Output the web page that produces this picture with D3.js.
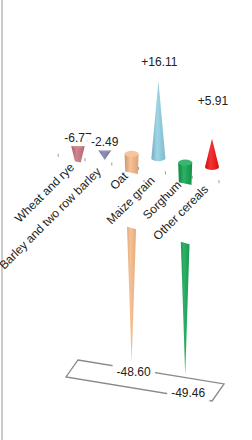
<!DOCTYPE html>
<html>
<head>
<meta charset="utf-8">
<script src="https://cdn.jsdelivr.net/npm/d3@7"></script>
<style>
  html, body { margin: 0; padding: 0; background: #fff; }
  svg { display: block; font-family: "Liberation Sans", Arial, sans-serif; }
</style>
</head>
<body>
<div id="container"></div>
<script>
const categories = ["Wheat and rye", "Barley and two row barley", "Oat", "Maize grain", "Sorghum", "Other cereals"]
const values = [-6.77, -2.49, -48.60, 16.11, -49.46, 5.91]
const colors = ["#c6717b", "#7b7aa8", "#f5b682", "#8dcfe3", "#0ba24c", "#f21010"]

const width = 252, height = 440

// bar centres along the (slanted) floor
const x = d3.scalePoint().domain(categories).range([78, 212])
// floor height at a given x (perspective tilt)
const floor = d3.scaleLinear().domain([78, 212]).range([145, 167])
// value -> vertical offset from the floor
const y = d3.scaleLinear().domain([-50, 0, 20]).range([215, 0, -96])
// white band hiding the part of the negative cones under the floor
const bandTop = d3.scaleLinear().domain([78, 212]).range([162, 189])
const bandBottom = d3.scaleLinear().domain([131.6, 185.2]).range([228, 243])

const fmt = v => (v > 0 ? "+" : "") + v.toFixed(2)

const svg = d3.select("#container").append("svg")
    .attr("width", width)
    .attr("height", height)

// left border line
svg.append("line")
    .attr("x1", 2).attr("x2", 2)
    .attr("y1", 0).attr("y2", height)
    .attr("stroke", "#a8a8a8")
    .attr("stroke-width", 1.2)

const defs = svg.append("defs")
colors.forEach((c, i) => {
    const g = defs.append("linearGradient").attr("id", "grad" + i)
        .attr("x1", "0%").attr("x2", "100%").attr("y1", "0%").attr("y2", "0%")
    g.append("stop").attr("offset", "0%").attr("stop-color", d3.color(c).darker(0.5))
    g.append("stop").attr("offset", "40%").attr("stop-color", d3.interpolateRgb(c, "#fff")(0.15))
    g.append("stop").attr("offset", "100%").attr("stop-color", d3.color(c).darker(0.3))
})

/********************* floor ticks ************************/

const step = x.step()
const tickX = d3.range(-1, categories.length).map(i => x.range()[0] + i * step + 7)
svg.append("g").selectAll("line")
    .data(tickX).enter()
    .append("line")
    .attr("x1", d => d).attr("x2", d => d)
    .attr("y1", d => floor(d) + 12).attr("y2", d => floor(d) + 15)
    .attr("stroke", "#999")

/********************* cones ************************/

const halfW = 7, ry = 3

function conePath(cx, v) {
    const b = floor(cx), tip = b + y(v)
    if (v >= 0) {
        return `M${cx - halfW},${b} L${cx},${tip} L${cx + halfW},${b} A${halfW},${ry} 0 0 1 ${cx - halfW},${b} Z`
    }
    return `M${cx - halfW},${b} L${cx},${tip} L${cx + halfW},${b} Z`
}

const bars = svg.append("g").selectAll("g")
    .data(categories).enter()
    .append("g")

bars.append("path")
    .attr("d", (d, i) => conePath(x(d), values[i]))
    .attr("fill", (d, i) => `url(#grad${i})`)

bars.filter((d, i) => values[i] < 0)
    .append("ellipse")
    .attr("cx", d => x(d))
    .attr("cy", d => floor(x(d)))
    .attr("rx", halfW)
    .attr("ry", ry)
    .attr("fill", d => d3.interpolateRgb(colors[categories.indexOf(d)], "#fff")(0.2))

// occluding band (axis label area)
svg.append("path")
    .attr("d", `M40,${bandTop(40)} L250,${bandTop(250)} L250,${bandBottom(250)} L40,${bandBottom(40)} Z`)
    .attr("fill", "#fff")

/********************* category labels ************************/

svg.append("g").selectAll("text")
    .data(categories).enter()
    .append("text")
    .attr("transform", d => `translate(${x(d) - 3},${floor(x(d)) + 23}) rotate(-45)`)
    .attr("text-anchor", "end")
    .attr("font-size", 12)
    .attr("fill", "#222")
    .text(d => d)

/********************* floor plate ************************/

const yMin = y.domain()[0]
const px0 = x.range()[0], px1 = x.range()[1] + step * 0.45
const back = [[px0, floor(px0) + y(yMin)], [px1, floor(px1) + y(yMin)]]
const front = back.map(p => [p[0] - 12, p[1] + 17])
const backY = xx => floor(xx) + y(yMin)
const frontY = xx => floor(xx + 12) + y(yMin) + 17

svg.append("path")
    .attr("d", d3.line()([back[0], back[1], front[1], front[0]]) + "Z")
    .attr("fill", "none")
    .attr("stroke", "#8a8a8a")
    .attr("stroke-width", 1.3)

/********************* value labels ************************/

let deep = 0
const labelPos = categories.map((c, i) => {
    const cx = x(c), v = values[i]
    if (v >= 0) return [cx + 1, Math.min(floor(cx) + y(v), 119) - 14.5]
    if (v > -40) return [cx, floor(cx) - 3]
    const onBack = deep++ % 2 === 0
    return onBack ? [cx + 2, backY(cx + 2) + 7] : [cx + 3, frontY(cx + 3)]
})

categories.forEach((c, i) => {
    const g = svg.append("g")
    const t = g.append("text")
        .attr("x", labelPos[i][0])
        .attr("y", labelPos[i][1])
        .attr("text-anchor", "middle")
        .attr("font-size", 12)
        .attr("fill", "#222")
        .text(fmt(values[i]))
    const bb = t.node().getBBox()
    g.insert("rect", "text")
        .attr("x", bb.x - 4).attr("y", bb.y - 1)
        .attr("width", bb.width + 8).attr("height", bb.height + 2)
        .attr("fill", "#fff")
})
</script>
</body>
</html>
